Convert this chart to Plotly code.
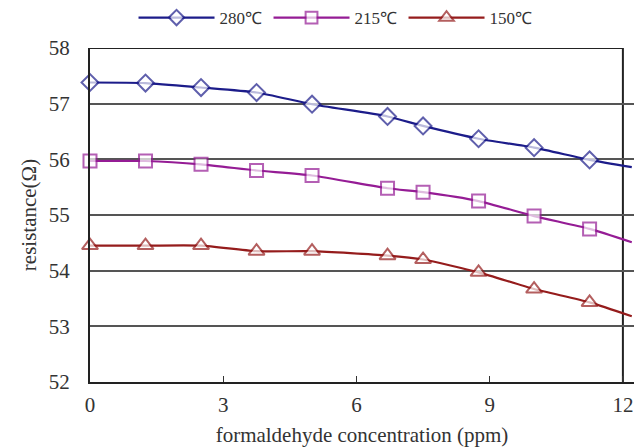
import plotly.graph_objects as go

# data (x = formaldehyde concentration in ppm); last point of each series is the unmarked line tail
x_vals = [0, 1.25, 2.5, 3.75, 5, 6.7, 7.5, 8.75, 10, 11.25, 12.2]
r_280 = [57.38, 57.37, 57.29, 57.2, 56.99, 56.77, 56.6, 56.37, 56.21, 55.99, 55.86]
r_215 = [55.97, 55.97, 55.91, 55.8, 55.71, 55.48, 55.41, 55.25, 54.98, 54.75, 54.51]
r_150 = [54.45, 54.45, 54.45, 54.35, 54.35, 54.27, 54.2, 53.97, 53.67, 53.43, 53.18]
series_names = ["280℃", "215℃", "150℃"]
x_ticks = [0, 3, 6, 9, 12]
y_ticks = [52, 53, 54, 55, 56, 57, 58]

colors = ["#1c1c8a", "#951c95", "#951c1c"]
symbols = ["diamond", "square", "triangle-up"]
sizes = [13, 13, 14]

fig = go.Figure()
for name, ys, c, s, sz in zip(series_names, [r_280, r_215, r_150], colors, symbols, sizes):
    msize = [sz] * (len(x_vals) - 1) + [0]
    fig.add_trace(go.Scatter(
        x=x_vals, y=ys, name=name, mode="lines+markers",
        line=dict(color=c, width=2.2, shape="spline", smoothing=0.6),
        marker=dict(symbol=s, size=msize, color="white", line=dict(color=c, width=2)),
        cliponaxis=False,
    ))

font_family = "Liberation Serif, Times New Roman, serif"
fig.update_layout(
    width=644, height=448,
    margin=dict(l=90, r=10, t=48, b=66, autoexpand=False),
    paper_bgcolor="white", plot_bgcolor="white",
    font=dict(family=font_family, size=21, color="#333333"),
    showlegend=True,
    legend=dict(orientation="h", x=0.08, xanchor="left", xref="paper",
                y=1.0, yanchor="top", yref="container",
                font=dict(family=font_family, size=17, color="#333"),
                itemwidth=76, entrywidth=44, bgcolor="rgba(0,0,0,0)"),
    xaxis=dict(range=[0, 12.25], tickvals=x_ticks, ticks="inside", ticklen=6,
               tickcolor="#333", showgrid=False, zeroline=False, showline=True,
               linecolor="#222", linewidth=2, ticklabelstandoff=3, automargin=False,
               title=dict(text="formaldehyde concentration (ppm)", standoff=11,
                          font=dict(size=21, family=font_family))),
    yaxis=dict(range=[52, 58], tickvals=y_ticks, ticks="", showgrid=True,
               gridcolor="#555555", gridwidth=1.5, zeroline=False, showline=True,
               linecolor="#222", linewidth=2, ticklabelstandoff=14, automargin=False,
               title=dict(text="resistance(Ω)", standoff=6,
                          font=dict(size=21, family=font_family))),
)
# right border at x=12 and top border
fig.add_shape(type="line", xref="x", yref="y", x0=12, x1=12, y0=52, y1=58,
              line=dict(color="#222", width=2), layer="below")
fig.add_shape(type="line", xref="x", yref="y", x0=0, x1=12, y0=58, y1=58,
              line=dict(color="#222", width=2), layer="below")
fig.write_html("out.html")
